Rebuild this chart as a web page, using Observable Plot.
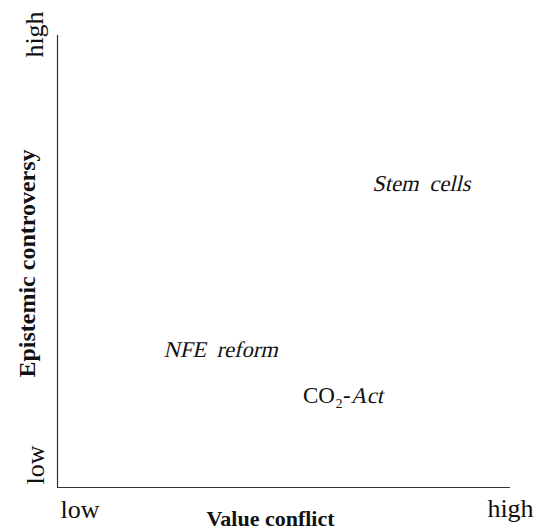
<!DOCTYPE html>
<html>
<head>
<meta charset="utf-8">
<script src="https://cdn.jsdelivr.net/npm/d3@7"></script>
<script src="https://cdn.jsdelivr.net/npm/@observablehq/plot@0.6"></script>
<style>
  html, body { margin: 0; padding: 0; background: #fff; }
  #chart svg { display: block; }
</style>
</head>
<body>
<div id="chart"></div>
<script>
// Axis end labels
const xTickLabels = ["low", "high"];
const yTickLabels = ["low", "high"];
const xTitle = "Value conflict";
const yTitle = "Epistemic controversy";

// Cases (0–10 scale on each dimension; x = label start / split point, y = baseline)
const casePrefix = ["", "", "CO₂-"];
const caseItalic = ["Stem cells", "NFE reform", "Act"];
const valueConflict = [6.95, 2.34, 6.47];
const epistemicControversy = [6.55, 2.88, 1.86];

const cases = caseItalic.map((t, i) => ({
  prefix: casePrefix[i], italic: t, x: valueConflict[i], y: epistemicControversy[i]
}));

const font = "Liberation Serif";
const caseSize = 23;
const tickSize = 26;

// slant the upright serif face (no true italic face is available)
function slanted(index, scales, values, dims, context, next) {
  const g = next(index, scales, values, dims, context);
  g.querySelectorAll("text").forEach(t => {
    t.setAttribute("transform", (t.getAttribute("transform") || "") + " skewX(-13)");
    t.style.wordSpacing = "5px";
  });
  return g;
}

const chart = Plot.plot({
  width: 536,
  height: 531,
  marginLeft: 57,
  marginRight: 26,
  marginTop: 35,
  marginBottom: 44,
  style: { fontFamily: font, fontSize: caseSize + "px", color: "#111", background: "#fff" },
  x: { domain: [0, 10], axis: null },
  y: { domain: [0, 10], axis: null },
  marks: [
    Plot.ruleX([0], { stroke: "#333", strokeWidth: 1.2 }),
    Plot.ruleY([0], { stroke: "#333", strokeWidth: 1.2 }),
    // x end labels
    Plot.text([xTickLabels[0]], { x: 0, frameAnchor: "bottom", dy: 30, dx: 3, text: d => d, textAnchor: "start", lineAnchor: "bottom", fontSize: tickSize }),
    Plot.text([xTickLabels[1]], { x: 10, frameAnchor: "bottom", dy: 29, text: d => d, textAnchor: "middle", lineAnchor: "bottom", fontSize: tickSize }),
    // y end labels
    Plot.text([yTickLabels[0]], { y: 0, frameAnchor: "left", dx: -14, dy: -3, rotate: -90, text: d => d, textAnchor: "start", lineAnchor: "bottom", fontSize: tickSize }),
    Plot.text([yTickLabels[1]], { y: 10, frameAnchor: "left", dx: -15, dy: -1, rotate: -90, text: d => d, textAnchor: "middle", lineAnchor: "bottom", fontSize: tickSize }),
    // titles
    Plot.text([xTitle], { frameAnchor: "bottom", dy: 38, dx: -13.5, text: d => d, textAnchor: "middle", fontWeight: "bold", lineAnchor: "bottom", fontSize: 22 }),
    Plot.text([yTitle], { frameAnchor: "left", dx: -23, dy: 2, rotate: -90, text: d => d, textAnchor: "middle", fontWeight: "bold", lineAnchor: "bottom", fontSize: 24 }),
    // cases
    Plot.text(cases, { x: "x", y: "y", text: "prefix", textAnchor: "end", lineAnchor: "bottom", fontSize: caseSize, fontFamily: font }),
    Plot.text(cases, { x: "x", y: "y", text: "italic", textAnchor: "start", lineAnchor: "bottom", fontSize: 22.5, fontFamily: font, render: slanted })
  ]
});
document.getElementById("chart").appendChild(chart);
</script>
</body>
</html>
